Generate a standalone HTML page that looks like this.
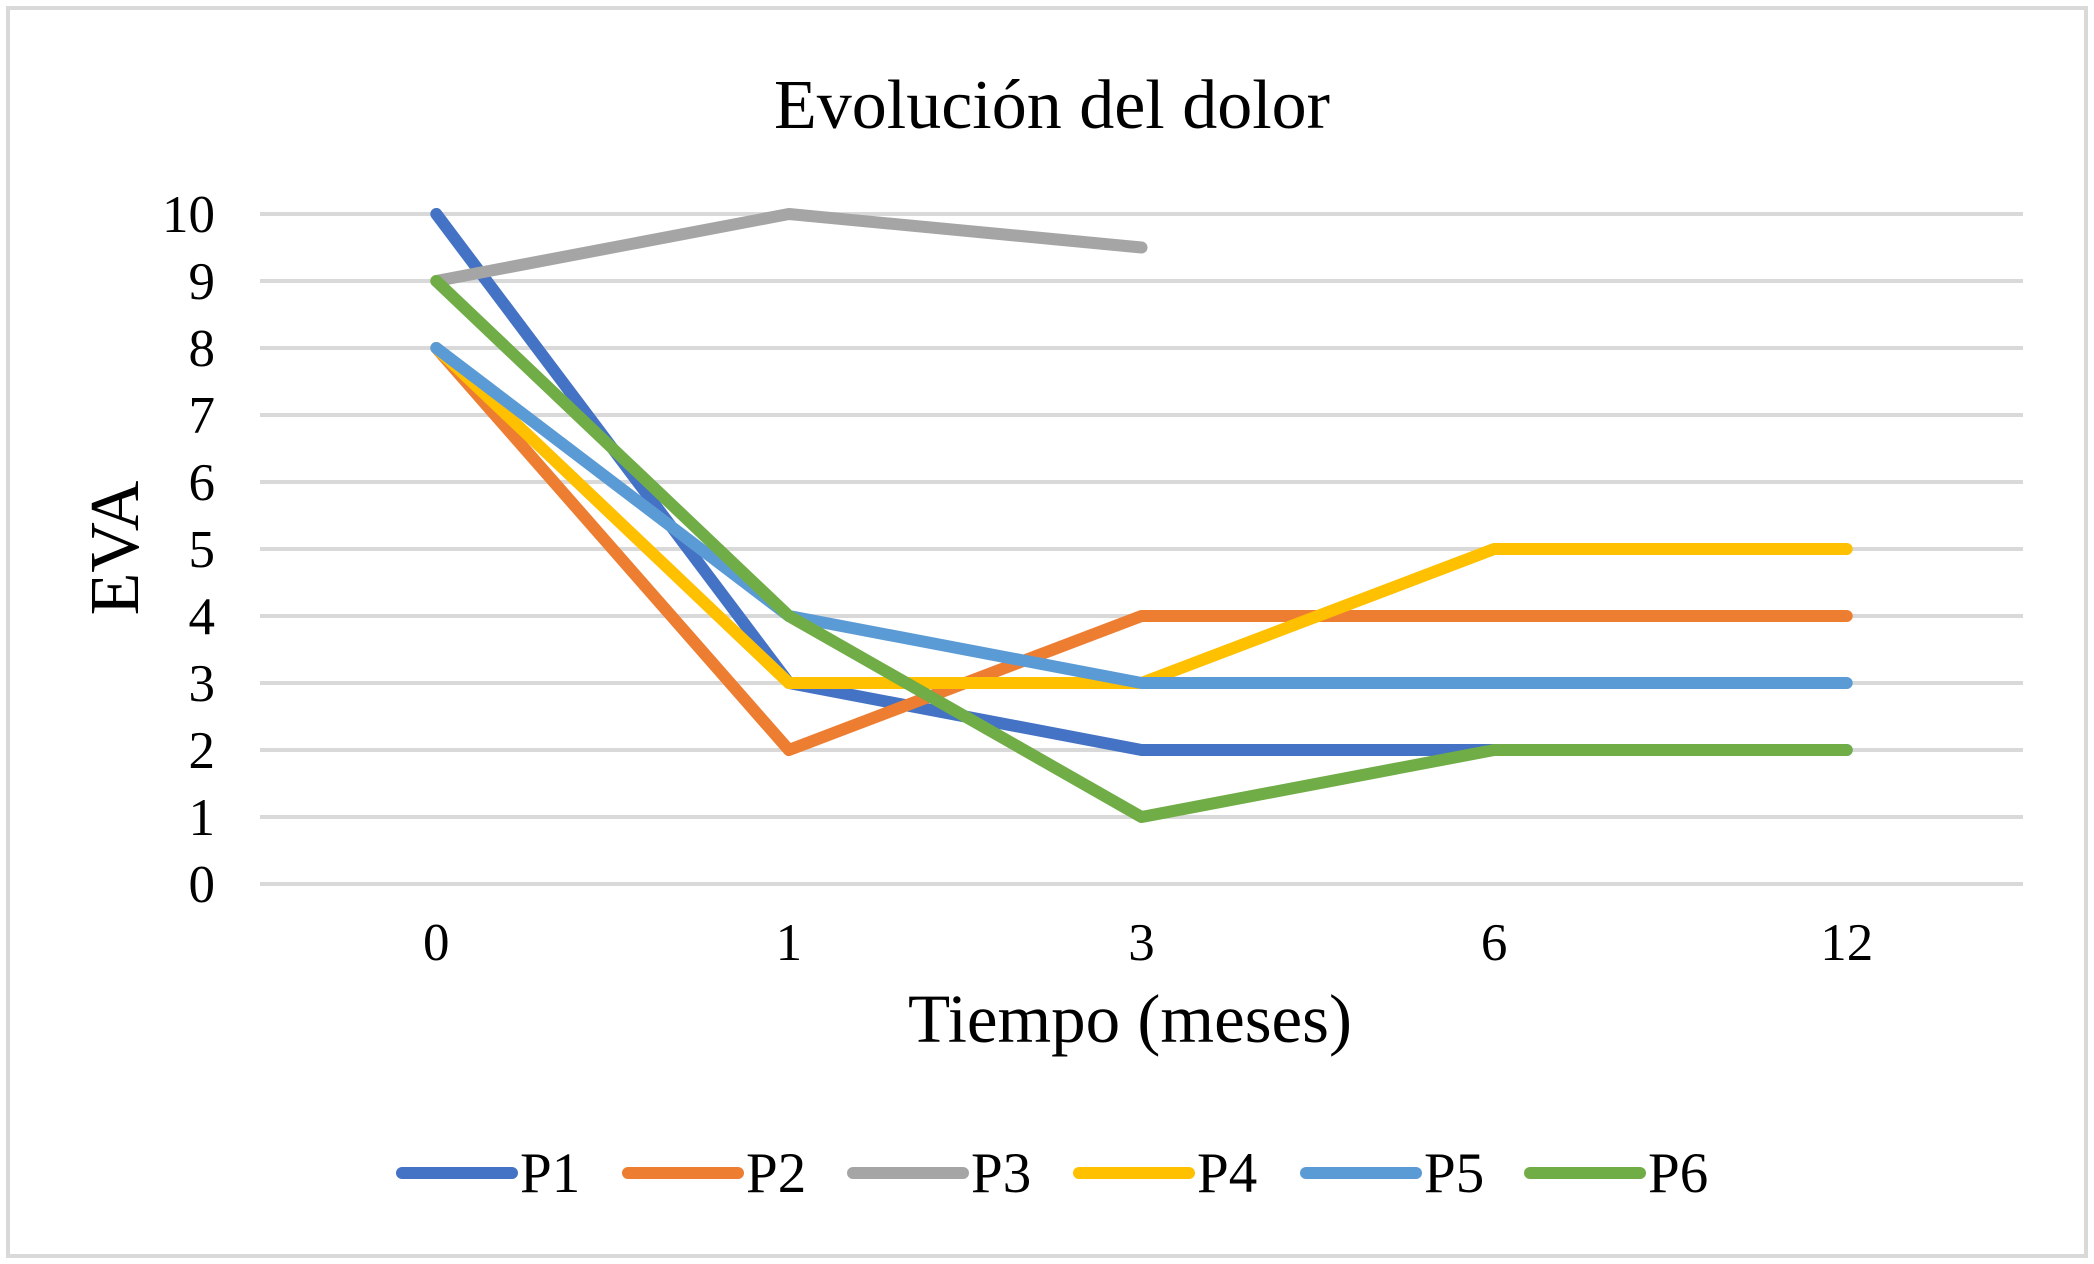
<!DOCTYPE html>
<html><head><meta charset="utf-8"><style>
html,body{margin:0;padding:0;background:#fff}
svg{display:block}
text{font-family:"Liberation Serif",serif;fill:#000}
</style></head><body>
<svg id="chart" width="2094" height="1264">
<rect x="8" y="8" width="2078" height="1248" fill="#fff" stroke="#d9d9d9" stroke-width="4"/>
<text x="1052" y="128" font-size="70" text-anchor="middle">Evolución del dolor</text>
<text transform="translate(138,548) rotate(-90)" font-size="70" text-anchor="middle">EVA</text>
<text x="1130" y="1042" font-size="69" text-anchor="middle">Tiempo (meses)</text>
<g id="grid"></g><g id="ylabels"></g><g id="xlabels"></g><g id="series"></g><g id="legend"></g>
</svg>
<script>
const categories = ["0","1","3","6","12"];
const seriesNames = ["P1","P2","P3","P4","P5","P6"];
const p1 = [10,3,2,2,2];
const p2 = [8,2,4,4,4];
const p3 = [9,10,9.5,null,null];
const p4 = [8,3,3,5,5];
const p5 = [8,4,3,3,3];
const p6 = [9,4,1,2,2];
const yTicks = [0,1,2,3,4,5,6,7,8,9,10];
const colors = ["#4472C4","#ED7D31","#A5A5A5","#FFC000","#5B9BD5","#70AD47"];
const allSeries = [p1,p2,p3,p4,p5,p6];
const NS="http://www.w3.org/2000/svg";
const L=260,R=2023,T=214,B=884;
const x=i=>L+(R-L)/categories.length*(i+0.5);
const y=v=>B-(v-0)/(10-0)*(B-T);
function mk(tag,attrs,parent){const e=document.createElementNS(NS,tag);for(const k in attrs)e.setAttribute(k,attrs[k]);parent.appendChild(e);return e;}
const grid=document.getElementById('grid'),yl=document.getElementById('ylabels'),xl=document.getElementById('xlabels'),sg=document.getElementById('series'),lg=document.getElementById('legend');
yTicks.forEach(t=>{
  const g=mk('line',{x1:L,x2:R,y1:y(t),y2:y(t),stroke:'#d9d9d9','stroke-width':4},grid);
  
  
  const tx=mk('text',{x:215,y:y(t)+18,'font-size':53,'text-anchor':'end'},yl);
  tx.textContent=t;
  
  
});
categories.forEach((c,i)=>{
  const tx=mk('text',{x:x(i),y:960,'font-size':53,'text-anchor':'middle'},xl);
  tx.textContent=c;
  
  
});
allSeries.forEach((s,k)=>{
  const pts=[];s.forEach((v,i)=>{if(v!==null)pts.push(x(i)+','+y(v));});
  const p=mk('polyline',{points:pts.join(' '),fill:'none',stroke:colors[k],'stroke-width':12,'stroke-linejoin':'round','stroke-linecap':'round'},sg);
  
  
});
const lx=[402,628,853,1079,1306,1530];
seriesNames.forEach((n,k)=>{
  const g=mk('g',{},lg);
  
  
  mk('line',{x1:lx[k],x2:lx[k]+110,y1:1173,y2:1173,stroke:colors[k],'stroke-width':12,'stroke-linecap':'round'},g);
  const t=mk('text',{x:lx[k]+118,y:1192,'font-size':57},g);
  t.textContent=n;
});
</script>
</body></html>
